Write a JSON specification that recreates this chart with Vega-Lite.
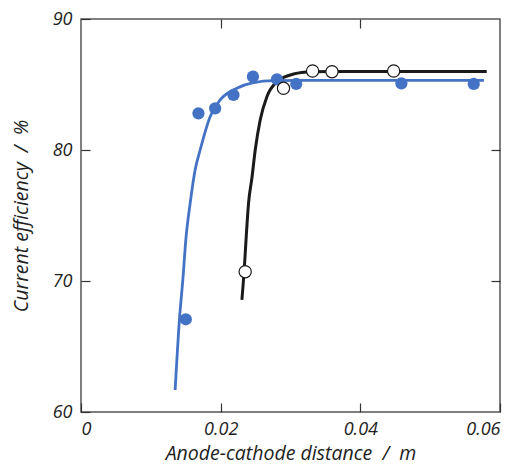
{
  "$schema": "https://vega.github.io/schema/vega-lite/v6.json",
  "autosize": "none",
  "width": 419,
  "height": 393,
  "padding": {"left": 81, "top": 19, "right": 20, "bottom": 53},
  "background": "white",
  "config": {
    "view": {"stroke": "#555555", "strokeWidth": 1.5},
    "font": "Open Sans",
    "axis": {
      "domain": false,
      "grid": false,
      "tickColor": "#333333",
      "tickWidth": 1.2,
      "tickSize": -9,
      "labelFont": "Open Sans",
      "labelFontStyle": "italic",
      "labelFontSize": 18,
      "labelColor": "#222222",
      "titleFont": "Open Sans",
      "titleFontStyle": "italic",
      "titleFontWeight": "normal",
      "titleFontSize": 19.5,
      "titleColor": "#222222"
    }
  },
  "datasets": {
    "curves": [
      {"series": "blue", "x": 0.01348, "y": 61.68},
      {"series": "blue", "x": 0.01409, "y": 67.02},
      {"series": "blue", "x": 0.01458, "y": 70.08},
      {"series": "blue", "x": 0.01505, "y": 73.38},
      {"series": "blue", "x": 0.01563, "y": 75.93},
      {"series": "blue", "x": 0.01634, "y": 78.47},
      {"series": "blue", "x": 0.01706, "y": 80.0},
      {"series": "blue", "x": 0.01849, "y": 82.54},
      {"series": "blue", "x": 0.01993, "y": 83.82},
      {"series": "blue", "x": 0.02232, "y": 84.71},
      {"series": "blue", "x": 0.0247, "y": 85.14},
      {"series": "blue", "x": 0.02757, "y": 85.29},
      {"series": "blue", "x": 0.032, "y": 85.32},
      {"series": "blue", "x": 0.0577, "y": 85.32},
      {"series": "black", "x": 0.02304, "y": 68.55},
      {"series": "black", "x": 0.02337, "y": 70.84},
      {"series": "black", "x": 0.02366, "y": 73.38},
      {"series": "black", "x": 0.02399, "y": 75.93},
      {"series": "black", "x": 0.02447, "y": 77.84},
      {"series": "black", "x": 0.02495, "y": 80.0},
      {"series": "black", "x": 0.02566, "y": 82.29},
      {"series": "black", "x": 0.02662, "y": 84.07},
      {"series": "black", "x": 0.02806, "y": 85.21},
      {"series": "black", "x": 0.03044, "y": 85.8},
      {"series": "black", "x": 0.033, "y": 85.97},
      {"series": "black", "x": 0.036, "y": 86.0},
      {"series": "black", "x": 0.0581, "y": 86.0}
    ],
    "points": [
      {"series": "blue", "x": 0.01501, "y": 67.08},
      {"series": "blue", "x": 0.01682, "y": 82.8},
      {"series": "blue", "x": 0.01921, "y": 83.18},
      {"series": "blue", "x": 0.02184, "y": 84.2},
      {"series": "blue", "x": 0.02462, "y": 85.6},
      {"series": "blue", "x": 0.02806, "y": 85.4},
      {"series": "blue", "x": 0.03082, "y": 85.04},
      {"series": "blue", "x": 0.04588, "y": 85.09},
      {"series": "blue", "x": 0.05624, "y": 85.04},
      {"series": "open", "x": 0.02351, "y": 70.71},
      {"series": "open", "x": 0.029, "y": 84.71},
      {"series": "open", "x": 0.03316, "y": 86.03},
      {"series": "open", "x": 0.03594, "y": 85.98},
      {"series": "open", "x": 0.04477, "y": 86.03}
    ]
  },
  "layer": [
    {
      "data": {"name": "curves"},
      "transform": [{"filter": "datum.series === 'blue'"}],
      "mark": {"type": "line", "color": "#4472C4", "strokeWidth": 2.8, "interpolate": "monotone"},
      "encoding": {
        "x": {
          "field": "x", "type": "quantitative",
          "scale": {"domain": [0, 0.06], "nice": false, "zero": false},
          "axis": {
            "orient": "bottom",
            "values": [0, 0.02, 0.04, 0.06],
            "labelExpr": "datum.value == 0 ? '0' : format(datum.value, '.2f')",
            "labelPadding": 17,
            "title": "Anode-cathode distance \u00a0/\u00a0 m",
            "titlePadding": 6
          }
        },
        "y": {
          "field": "y", "type": "quantitative",
          "scale": {"domain": [60, 90], "nice": false, "zero": false},
          "axis": {
            "orient": "left",
            "values": [60, 70, 80, 90],
            "format": "d",
            "labelPadding": 18,
            "title": "Current efficiency \u00a0/\u00a0 %",
            "titlePadding": 21
          }
        }
      }
    },
    {
      "data": {"name": "curves"},
      "transform": [{"filter": "datum.series === 'black'"}],
      "mark": {"type": "line", "color": "#1a1a1a", "strokeWidth": 3, "interpolate": "monotone"},
      "encoding": {
        "x": {
          "field": "x", "type": "quantitative",
          "axis": {"orient": "top", "values": [0.02, 0.04], "labels": false, "title": null}
        },
        "y": {
          "field": "y", "type": "quantitative",
          "axis": {"orient": "right", "values": [70, 80], "labels": false, "title": null}
        }
      }
    },
    {
      "data": {"name": "points"},
      "transform": [{"filter": "datum.series === 'blue'"}],
      "mark": {"type": "point", "filled": true, "shape": "circle", "size": 150, "color": "#4472C4", "opacity": 1},
      "encoding": {
        "x": {"field": "x", "type": "quantitative", "axis": null},
        "y": {"field": "y", "type": "quantitative", "axis": null}
      }
    },
    {
      "data": {"name": "points"},
      "transform": [{"filter": "datum.series === 'open'"}],
      "mark": {"type": "point", "shape": "circle", "size": 150, "fill": "white", "fillOpacity": 1, "stroke": "#1a1a1a", "strokeWidth": 1.2, "opacity": 1},
      "encoding": {
        "x": {"field": "x", "type": "quantitative", "axis": null},
        "y": {"field": "y", "type": "quantitative", "axis": null}
      }
    }
  ],
  "resolve": {"axis": {"x": "independent", "y": "independent"}}
}
